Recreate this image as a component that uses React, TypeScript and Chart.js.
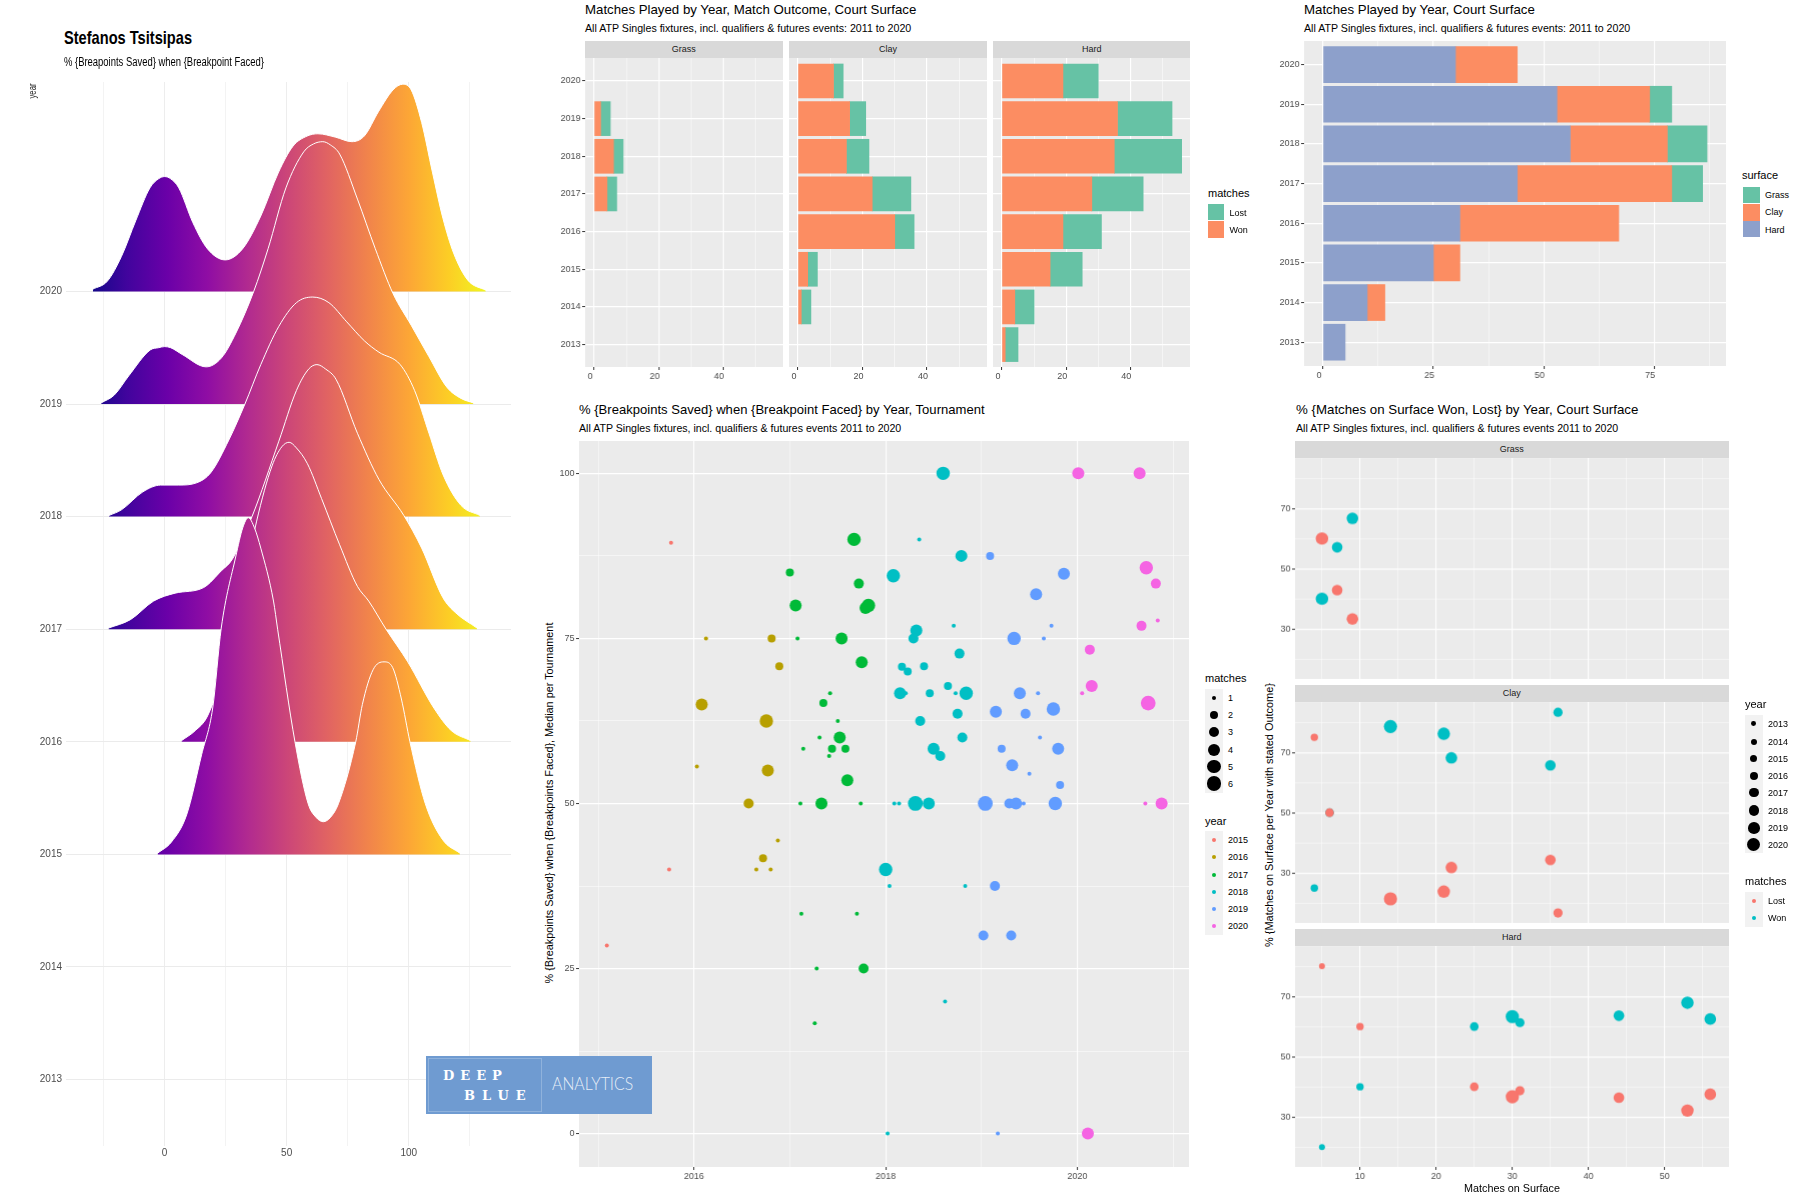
import React, { useEffect, useRef } from "react";
import { Chart, registerables } from "chart.js";

Chart.register(...registerables);

// ---------- data ----------
const barYears = [2020, 2019, 2018, 2017, 2016, 2015, 2014, 2013];
const grassWon = [0, 2, 6, 4, 0, 0, 0, 0];
const grassLost = [0, 3, 3, 3, 0, 0, 0, 0];
const clayWon = [11, 16, 15, 23, 30, 3, 1, 0];
const clayLost = [3, 5, 7, 12, 6, 3, 3, 0];
const hardWon = [19, 36, 35, 28, 19, 15, 4, 1];
const hardLost = [11, 17, 21, 16, 12, 10, 6, 4];
const totalHard = [30, 53, 56, 44, 31, 25, 10, 5];
const totalClay = [14, 21, 22, 35, 36, 6, 4, 0];
const totalGrass = [0, 5, 9, 7, 0, 0, 0, 0];

const ridgeYears = [2015, 2016, 2017, 2018, 2019, 2020];
const ridge2015X = [-2.9, 2.8, 9, 15.2, 19.7, 23.2, 29.2, 32, 34.3, 36.8, 39.4, 44.6, 46.3, 53.4, 58.8, 62, 65, 68, 71.2, 78.3, 81, 85.4, 89.9, 93.4, 97, 100.5, 106.8, 113.9, 121];
const ridge2015H = [0.01, 0.11, 0.35, 0.89, 1.3, 2.01, 2.65, 2.9, 2.99, 2.9, 2.72, 2.25, 2.0, 1.0, 0.45, 0.33, 0.29, 0.33, 0.45, 1.0, 1.33, 1.64, 1.71, 1.66, 1.38, 1.0, 0.45, 0.13, 0.01];
const ridge2016X = [6.9, 12.6, 17.6, 25, 31, 37.7, 44, 48, 51, 54, 58.5, 64.3, 71.7, 79, 83.6, 90.7, 99.6, 110.3, 117.4, 125.4];
const ridge2016H = [0.01, 0.1, 0.23, 0.7, 1.25, 1.96, 2.45, 2.62, 2.66, 2.61, 2.47, 2.16, 1.75, 1.38, 1.25, 1.0, 0.71, 0.3, 0.1, 0.01];
const ridge2017X = [-23, -14, -4.5, 4.3, 16, 23.3, 27.7, 35.8, 46.8, 54, 59, 62.4, 66, 70.2, 79, 87.8, 98, 105.3, 114, 119, 128];
const ridge2017H = [0.01, 0.085, 0.25, 0.32, 0.37, 0.52, 0.62, 1.0, 1.67, 2.12, 2.31, 2.35, 2.31, 2.22, 1.74, 1.33, 1.01, 0.72, 0.28, 0.15, 0.01];
const ridge2018X = [-22.8, -17.7, -8.9, -1.6, 5.8, 13.1, 18.9, 26.3, 32.9, 39.4, 46.8, 54, 60.7, 67.3, 74.6, 81.9, 87.8, 96.5, 102.4, 108.3, 114.1, 121.4, 129.2];
const ridge2018H = [0.01, 0.06, 0.22, 0.28, 0.28, 0.3, 0.39, 0.68, 1.0, 1.35, 1.69, 1.9, 1.95, 1.9, 1.73, 1.56, 1.46, 1.35, 1.12, 0.74, 0.37, 0.1, 0.01];
const ridge2019X = [-26, -20.6, -14.7, -5.9, -2.5, 0, 2.5, 7.2, 17, 23.3, 29.2, 36.5, 42.4, 49.7, 57, 61, 64.8, 68, 71.7, 79, 86.3, 93.6, 101, 108.3, 115.6, 121.4, 126.5];
const ridge2019H = [0.01, 0.08, 0.25, 0.48, 0.5, 0.51, 0.5, 0.44, 0.33, 0.41, 0.63, 1.0, 1.38, 1.92, 2.24, 2.31, 2.33, 2.3, 2.22, 1.82, 1.38, 0.98, 0.7, 0.42, 0.15, 0.05, 0.01];
const ridge2020X = [-29.4, -23.5, -17.7, -11.8, -6, -2.5, 0, 2.5, 5.8, 11.6, 17.5, 24.8, 32, 39.4, 46.7, 52.6, 58.4, 62.8, 70, 76.7, 81.8, 87.7, 93.6, 97.5, 101, 105.3, 109.7, 114, 118.4, 124.2, 131.6];
const ridge2020H = [0.02, 0.09, 0.31, 0.63, 0.92, 1.0, 1.02, 1.0, 0.92, 0.61, 0.38, 0.28, 0.38, 0.67, 1.06, 1.29, 1.38, 1.4, 1.37, 1.33, 1.38, 1.6, 1.79, 1.84, 1.79, 1.5, 1.06, 0.65, 0.34, 0.1, 0.01];

// [date in years, % saved, matches]
const bp2015 = [[2015.76, 89.5, 1], [2015.09, 28.5, 1], [2015.74, 40, 1]];
const bp2016 = [[2016.125, 75, 1], [2016.81, 75, 2], [2016.89, 70.8, 2], [2016.08, 65, 4], [2016.755, 62.5, 5], [2016.03, 55.6, 1], [2016.77, 55, 4], [2016.57, 50, 3], [2016.72, 41.7, 2], [2016.875, 44.4, 1], [2016.65, 40, 1], [2016.8, 40, 1]];
const bp2017 = [[2017.67, 90, 5], [2017.0, 85, 2], [2017.72, 83.3, 3], [2017.06, 80, 4], [2017.79, 79.6, 4], [2017.82, 80, 5], [2017.08, 75, 1], [2017.54, 75, 4], [2017.75, 71.4, 4], [2017.42, 66.7, 1], [2017.35, 65.2, 2], [2017.5, 62.5, 1], [2017.31, 60, 1], [2017.52, 60, 4], [2017.14, 58.3, 1], [2017.44, 58.3, 2], [2017.58, 58.3, 2], [2017.41, 57.2, 1], [2017.6, 53.5, 4], [2017.11, 50, 1], [2017.33, 50, 4], [2017.74, 50, 1], [2017.12, 33.3, 1], [2017.7, 33.3, 1], [2017.28, 25, 1], [2017.77, 25, 3], [2017.26, 16.7, 1]];
const bp2018 = [[2018.6, 100, 5], [2018.35, 90, 1], [2018.79, 87.5, 4], [2018.08, 84.5, 5], [2018.32, 76.2, 4], [2018.29, 75, 3], [2018.71, 76.9, 1], [2018.77, 72.7, 3], [2018.17, 70.7, 2], [2018.23, 70, 2], [2018.4, 70.8, 2], [2018.65, 67.8, 2], [2018.15, 66.7, 4], [2018.21, 66.7, 1], [2018.46, 66.7, 2], [2018.73, 66.7, 1], [2018.84, 66.7, 5], [2018.75, 63.6, 3], [2018.36, 62.5, 3], [2018.8, 60, 3], [2018.5, 58.3, 4], [2018.57, 57.2, 3], [2018.09, 50, 1], [2018.14, 50, 1], [2018.31, 50, 6], [2018.45, 50, 4], [2018.0, 40, 5], [2018.04, 37.5, 1], [2018.83, 37.5, 1], [2018.62, 20, 1], [2018.02, 0, 1]];
const bp2019 = [[2019.09, 87.5, 2], [2019.57, 81.7, 4], [2019.86, 84.8, 4], [2019.34, 75, 5], [2019.73, 76.9, 1], [2019.65, 75, 1], [2019.4, 66.7, 4], [2019.59, 66.7, 1], [2019.15, 63.9, 4], [2019.46, 63.6, 3], [2019.75, 64.3, 5], [2019.61, 60, 1], [2019.21, 58.3, 2], [2019.8, 58.3, 4], [2019.32, 55.8, 4], [2019.5, 54.5, 1], [2019.82, 52.8, 2], [2019.04, 50, 6], [2019.29, 50, 3], [2019.36, 50, 4], [2019.44, 50, 1], [2019.77, 50, 5], [2019.14, 37.5, 3], [2019.02, 30, 3], [2019.31, 30, 3], [2019.17, 0, 1]];
const bp2020 = [[2020.01, 100, 4], [2020.65, 100, 4], [2020.72, 85.7, 5], [2020.82, 83.3, 3], [2020.67, 76.9, 3], [2020.84, 77.7, 1], [2020.13, 73.3, 3], [2020.15, 67.8, 4], [2020.05, 66.7, 1], [2020.74, 65.2, 6], [2020.71, 50, 1], [2020.88, 50, 4], [2020.11, 0, 4]];

// [matches on surface, % of matches, year]
const grassWonPct = [[5, 40, 2019], [7, 57.1, 2017], [9, 66.7, 2018]];
const grassLostPct = [[5, 60, 2019], [7, 42.9, 2017], [9, 33.3, 2018]];
const clayWonPct = [[4, 25, 2014], [6, 50, 2015], [36, 83.3, 2016], [35, 65.7, 2017], [22, 68.2, 2018], [21, 76.2, 2019], [14, 78.6, 2020]];
const clayLostPct = [[4, 75, 2014], [6, 50, 2015], [36, 16.7, 2016], [35, 34.3, 2017], [22, 31.8, 2018], [21, 23.8, 2019], [14, 21.4, 2020]];
const hardWonPct = [[5, 20, 2013], [10, 40, 2014], [25, 60, 2015], [31, 61.3, 2016], [44, 63.6, 2017], [56, 62.5, 2018], [53, 67.9, 2019], [30, 63.3, 2020]];
const hardLostPct = [[5, 80, 2013], [10, 60, 2014], [25, 40, 2015], [31, 38.7, 2016], [44, 36.4, 2017], [56, 37.5, 2018], [53, 32.1, 2019], [30, 36.7, 2020]];

const legendMatches = [1, 2, 3, 4, 5, 6];
const legendYears = [2015, 2016, 2017, 2018, 2019, 2020];
const legendAllYears = [2013, 2014, 2015, 2016, 2017, 2018, 2019, 2020];

// ---------- styles ----------
const SANS = "'Liberation Sans', Arial, sans-serif";
const GREEN = "#66C2A5", ORANGE = "#FC8D62", BLUE = "#8DA0CB";
const RED_G = "#F8766D", CYAN_G = "#00BFC4";
const YEAR_COLORS: any = { 2015: "#F8766D", 2016: "#B79F00", 2017: "#00BA38", 2018: "#00BFC4", 2019: "#619CFF", 2020: "#F564E3" };
const MATCH_R = [0, 2, 4, 5, 6, 6.7, 7.4];
const YEAR_R: any = { 2013: 3, 2014: 3.7, 2015: 4.3, 2016: 4.6, 2017: 5.3, 2018: 5.8, 2019: 6.2, 2020: 6.6 };
const PLASMA = ["#0D0887", "#41049D", "#6A00A8", "#8F0DA4", "#B12A90", "#CC4678", "#E16462", "#F1844B", "#FCA636", "#FCCE25", "#F0F921"];

const M = { l: 40, r: 14, t: 16, b: 26 };
const bgPlugin = { id: "panelBg", beforeDraw(c: any) { const a = c.chartArea; c.ctx.save(); c.ctx.fillStyle = "#EBEBEB"; c.ctx.fillRect(a.left, a.top, a.width, a.height); c.ctx.restore(); } };

function ggScale(o: any) {
  const major = o.major, shown = o.labels !== false;
  return {
    type: "linear", min: o.min, max: o.max, stacked: o.stacked, offset: false,
    border: { display: false },
    afterFit: (s: any) => { if (o.axis === "x") s.height = M.b; else s.width = M.l; },
    grid: {
      offset: false,
      color: "#FFFFFF",
      lineWidth: (c: any) => (c.tick && major(c.tick.value) ? 1.15 : 0.5),
      tickColor: (c: any) => (shown && c.tick && major(c.tick.value) ? "#333333" : "rgba(0,0,0,0)"),
      tickLength: 3, tickWidth: 1,
    },
    ticks: {
      stepSize: o.step, includeBounds: false, autoSkip: false, maxRotation: 0, minRotation: 0,
      padding: 1.5, color: "#4D4D4D", font: { family: SANS, size: 9 }, labelOffset: o.labelOffset || 0,
      callback: (v: number) => (shown && major(v) ? String(v) : ""),
    },
  };
}

function baseOptions(scales: any, extra: any = {}) {
  return {
    responsive: false, animation: false, devicePixelRatio: 1, events: [],
    layout: { autoPadding: false, padding: { top: M.t, right: M.r, left: 0, bottom: 0 } },
    plugins: { legend: { display: false }, tooltip: { enabled: false } },
    scales, ...extra,
  };
}

function barConfig(series: any[], xr: any, yr: any, thick: number, yLabels: boolean, xOff: number) {
  return {
    type: "bar",
    data: { datasets: series.map((s) => ({
      label: s.label, backgroundColor: s.color, borderWidth: 0, barThickness: thick,
      data: barYears.map((y, i) => ({ x: s.values[i], y })).filter((p) => p.x > 0),
    })) },
    options: baseOptions({
      x: ggScale({ axis: "x", ...xr, stacked: true, labelOffset: xOff }),
      y: ggScale({ axis: "y", ...yr, step: 1, stacked: true, major: () => true, labels: yLabels }),
    }, { indexAxis: "y" }),
    plugins: [bgPlugin],
  };
}

function pctConfig(won: number[][], lost: number[][], showX: boolean) {
  const ds = (rows: number[][], color: string, label: string) => ({
    label, data: rows.map((r) => ({ x: r[0], y: r[1], year: r[2] })), showLine: false,
    pointBackgroundColor: color, pointBorderWidth: 0, pointRadius: (c: any) => YEAR_R[c.raw?.year] ?? 0,
  });
  return {
    type: "scatter",
    data: { datasets: [ds(lost, RED_G, "Lost"), ds(won, CYAN_G, "Won")] },
    options: baseOptions({
      x: ggScale({ axis: "x", min: 1.47, max: 58.46, step: 5, major: (v: number) => v % 10 === 0, labels: showX }),
      y: ggScale({ axis: "y", min: 13.4, max: 86.7, step: 10, major: (v: number) => v % 20 === 10 }),
    }),
    plugins: [bgPlugin],
  };
}

function scatterConfig() {
  const rows: any = { 2015: bp2015, 2016: bp2016, 2017: bp2017, 2018: bp2018, 2019: bp2019, 2020: bp2020 };
  return {
    type: "scatter",
    data: { datasets: [...legendYears].reverse().map((y) => ({
      label: String(y), data: rows[y].map((r: number[]) => ({ x: r[0], y: r[1], m: r[2] })), showLine: false,
      pointBackgroundColor: YEAR_COLORS[y], pointBorderWidth: 0, pointRadius: (c: any) => MATCH_R[c.raw?.m] ?? 0,
    })) },
    options: baseOptions({
      x: ggScale({ axis: "x", min: 2014.8, max: 2021.166, step: 1, major: (v: number) => v % 2 === 0 }),
      y: ggScale({ axis: "y", min: -5.06, max: 104.9, step: 12.5, major: (v: number) => v % 25 === 0 }),
    }),
    plugins: [bgPlugin],
  };
}

function ridgeConfig() {
  const rows: any = { 2015: [ridge2015X, ridge2015H], 2016: [ridge2016X, ridge2016H], 2017: [ridge2017X, ridge2017H], 2018: [ridge2018X, ridge2018H], 2019: [ridge2019X, ridge2019H], 2020: [ridge2020X, ridge2020H] };
  const gradient = (c: any) => {
    const ch = c.chart;
    if (!ch.chartArea) return "rgba(0,0,0,0)";
    const xs = ch.scales.x;
    const g = ch.ctx.createLinearGradient(xs.getPixelForValue(-32), 0, xs.getPixelForValue(133), 0);
    PLASMA.forEach((col, i) => g.addColorStop(i / (PLASMA.length - 1), col));
    return g;
  };
  const light = (c: any) => (c.tick && c.tick.value % 50 === 0 ? 0.9 : 0.6);
  return {
    type: "line",
    data: { datasets: ridgeYears.map((y) => ({
      label: String(y),
      data: rows[y][0].map((x: number, i: number) => ({ x, y: y + rows[y][1][i] })),
      borderColor: "#FFFFFF", borderWidth: 1, pointRadius: 0, cubicInterpolationMode: "monotone",
      fill: { value: y }, backgroundColor: gradient,
    })) },
    options: {
      responsive: false, animation: false, devicePixelRatio: 1, events: [],
      layout: { autoPadding: false, padding: { top: M.t, right: M.r, left: 0, bottom: 0 } },
      plugins: { legend: { display: false }, tooltip: { enabled: false } },
      scales: {
        x: {
          type: "linear", min: -40.4, max: 141.9, border: { display: false },
          afterFit: (s: any) => { s.height = M.b; },
          grid: { color: "#EBEBEB", lineWidth: light, drawTicks: false },
          ticks: { stepSize: 25, includeBounds: false, autoSkip: false, maxRotation: 0, padding: 1, color: "#4D4D4D", font: { family: SANS, size: 10 }, callback: (v: number) => (v % 50 === 0 ? String(v) : "") },
        },
        y: {
          type: "linear", min: 2012.41, max: 2021.86, border: { display: false },
          afterFit: (s: any) => { s.width = 66; },
          grid: { color: "#EBEBEB", lineWidth: 1, drawTicks: false },
          ticks: { stepSize: 1, includeBounds: false, autoSkip: false, padding: 4, color: "#4D4D4D", font: { family: SANS, size: 10 }, callback: (v: number) => (v <= 2020 ? String(v) : null) },
        },
      },
    },
  };
}

// ---------- components ----------
function Panel({ x, y, w, h, left = M.l, make }: any) {
  const ref = useRef<HTMLCanvasElement>(null);
  useEffect(() => {
    const chart = new Chart(ref.current as any, make());
    return () => chart.destroy();
  }, []);
  const cw = w + left + M.r, ch = h + M.t + M.b;
  return <canvas ref={ref} width={cw} height={ch} style={{ position: "absolute", left: x - left, top: y - M.t, width: cw, height: ch }} />;
}

const measureCtx = typeof document !== "undefined" ? document.createElement("canvas").getContext("2d") : null;

function T({ x, y, text, size = 10, bold = false, color = "#000", anchor = "start", rot = 0, w, family = SANS, spacing = 0, weight }: any) {
  let sx = 1;
  if (w && measureCtx) {
    measureCtx.font = `${bold ? "bold " : ""}${size}px ${family}`;
    sx = w / measureCtx.measureText(text).width;
  }
  const tx = anchor === "middle" ? "-50%" : anchor === "end" ? "-100%" : "0";
  return (
    <div style={{
      position: "absolute", left: x, top: y, whiteSpace: "pre", lineHeight: 1, fontFamily: family, fontSize: size,
      fontWeight: weight ?? (bold ? "bold" : "normal"), color, transformOrigin: "0 0", letterSpacing: spacing,
      transform: rot ? `rotate(${rot}deg) scaleX(${sx}) translate(-50%,-50%)` : `scaleX(${sx}) translate(${tx},-50%)`,
    }}>{text}</div>
  );
}

function Box({ x, y, w, h, color, extra }: any) {
  return <div style={{ position: "absolute", left: x, top: y, width: w, height: h, background: color, ...extra }} />;
}
function Dot({ x, y, r, color }: any) {
  return <div style={{ position: "absolute", left: x - r, top: y - r, width: 2 * r, height: 2 * r, borderRadius: "50%", background: color }} />;
}
function Strip({ x, y, w, h, text }: any) {
  return <>
    <Box x={x} y={y} w={w} h={h} color="#D9D9D9" />
    <T x={x + w / 2} y={y + h / 2} text={text} size={9} color="#1A1A1A" anchor="middle" />
  </>;
}

export default function App() {
  const midRowY = { min: 2012.405, max: 2020.61 };
  const mid = { min: -2.8, max: 58.6, step: 10, major: (v: number) => v % 20 === 0 };
  const midBars = (won: number[], lost: number[], labels: boolean) => () =>
    barConfig([{ label: "Won", color: ORANGE, values: won }, { label: "Lost", color: GREEN, values: lost }], mid, midRowY, 34, labels, -4);

  const matchRows = [697.7, 714.7, 732.3, 749.7, 766.7, 783.7];
  const yearRows = [839.7, 857.3, 874.7, 891.7, 908.7, 926];
  const allYearRows = [723.7, 741.7, 758.7, 775.7, 792.7, 810.7, 827.7, 844.7];

  return (
    <div style={{ position: "absolute", left: 0, top: 0, width: 1800, height: 1200, background: "#fff", overflow: "hidden" }}>
      {/* ridgeline panel */}
      <Panel x={66} y={82} w={445} h={1064} left={66} make={ridgeConfig} />
      <T x={64} y={37} text="Stefanos Tsitsipas" size={19} bold w={128} />
      <T x={64} y={61.6} text="% {Breapoints Saved} when {Breakpoint Faced}" size={12.5} w={200} />
      <T x={33} y={91} text="year" size={10} rot={-90} w={15} color="#222" />

      {/* top middle */}
      <T x={585} y={10.3} text="Matches Played by Year, Match Outcome, Court Surface" size={13.5} w={331.5} />
      <T x={585} y={28} text="All ATP Singles fixtures, incl. qualifiers & futures events: 2011 to 2020" size={11} w={327} />
      <Strip x={585} y={40.7} w={197.7} h={17} text="Grass" />
      <Strip x={789} y={40.7} w={198} h={17} text="Clay" />
      <Strip x={993} y={40.7} w={197.4} h={17} text="Hard" />
      <Panel x={585} y={57.7} w={197.7} h={309} make={midBars(grassWon, grassLost, true)} />
      <Panel x={789} y={57.7} w={198} h={309} make={midBars(clayWon, clayLost, false)} />
      <Panel x={993} y={57.7} w={197.4} h={309} make={midBars(hardWon, hardLost, false)} />
      <T x={1208} y={193} text="matches" size={11} />
      <Box x={1208} y={203.7} w={16} h={16.5} color={GREEN} />
      <Box x={1208} y={221} w={16} h={16.5} color={ORANGE} />
      <T x={1229.5} y={213} text="Lost" size={9} />
      <T x={1229.5} y={230} text="Won" size={9} />

      {/* top right */}
      <T x={1304} y={10.3} text="Matches Played by Year, Court Surface" size={13.5} w={231} />
      <T x={1304} y={28} text="All ATP Singles fixtures, incl. qualifiers & futures events: 2011 to 2020" size={11} w={327} />
      <Panel x={1304} y={40.7} w={421.7} h={325.3} make={() => barConfig(
        [{ label: "Hard", color: BLUE, values: totalHard }, { label: "Clay", color: ORANGE, values: totalClay }, { label: "Grass", color: GREEN, values: totalGrass }],
        { min: -4.3, max: 91.3, step: 12.5, major: (v: number) => v % 25 === 0 },
        { min: 2012.4, max: 2020.595 }, 36, true, -4)} />
      <T x={1742} y={175} text="surface" size={11} />
      <Box x={1743} y={186.7} w={16.5} h={16.5} color={GREEN} />
      <Box x={1743} y={204} w={16.5} h={16.5} color={ORANGE} />
      <Box x={1743} y={220.7} w={16.5} h={16.5} color={BLUE} />
      <T x={1765} y={195} text="Grass" size={9} />
      <T x={1765} y={212} text="Clay" size={9} />
      <T x={1765} y={230} text="Hard" size={9} />

      {/* main scatter */}
      <T x={579} y={410.3} text="% {Breakpoints Saved} when {Breakpoint Faced} by Year, Tournament" size={13.5} w={406} />
      <T x={579} y={428} text="All ATP Singles fixtures, incl. qualifiers & futures events 2011 to 2020" size={11} w={323} />
      <T x={549} y={803} text="% {Breakpoints Saved} when {Breakpoints Faced}, Median per Tournament" size={11} rot={-90} w={361} />
      <Panel x={579} y={440.7} w={609.7} h={726} make={scatterConfig} />
      <T x={1205} y={678} text="matches" size={11} />
      <Box x={1204.7} y={689} w={18} h={103.7} color="#F2F2F2" />
      {legendMatches.map((m, i) => <React.Fragment key={m}>
        <Dot x={1214} y={matchRows[i]} r={MATCH_R[m]} color="#000" />
        <T x={1228} y={matchRows[i]} text={String(m)} size={9} />
      </React.Fragment>)}
      <T x={1205} y={820.7} text="year" size={11} />
      <Box x={1205} y={831} w={18} h={104} color="#F2F2F2" />
      {legendYears.map((y, i) => <React.Fragment key={y}>
        <Dot x={1214} y={yearRows[i]} r={2.2} color={YEAR_COLORS[y]} />
        <T x={1228} y={yearRows[i]} text={String(y)} size={9} />
      </React.Fragment>)}

      {/* bottom right */}
      <T x={1295.5} y={410.3} text="% {Matches on Surface Won, Lost} by Year, Court Surface" size={13.5} w={342.6} />
      <T x={1295.5} y={428} text="All ATP Singles fixtures, incl. qualifiers & futures events 2011 to 2020" size={11} w={323} />
      <T x={1269} y={815} text="% {Matches on Surface per Year with stated Outcome}" size={11} rot={-90} w={264} />
      <Strip x={1295} y={440.7} w={433.7} h={17.3} text="Grass" />
      <Strip x={1295} y={684.7} w={433.7} h={17.3} text="Clay" />
      <Strip x={1295} y={928.7} w={433.7} h={17.3} text="Hard" />
      <Panel x={1295} y={458} w={433.7} h={220.7} make={() => pctConfig(grassWonPct, grassLostPct, false)} />
      <Panel x={1295} y={702} w={433.7} h={220.7} make={() => pctConfig(clayWonPct, clayLostPct, false)} />
      <Panel x={1295} y={946} w={433.7} h={220.7} make={() => pctConfig(hardWonPct, hardLostPct, true)} />
      <T x={1511.7} y={1188} text="Matches on Surface" size={11} anchor="middle" w={96} />
      <T x={1745} y={704} text="year" size={11} />
      <Box x={1745} y={715} w={18} h={138} color="#F2F2F2" />
      {legendAllYears.map((y, i) => <React.Fragment key={y}>
        <Dot x={1753.8} y={allYearRows[i]} r={2.4 + i * 0.58} color="#000" />
        <T x={1768} y={allYearRows[i]} text={String(y)} size={9} />
      </React.Fragment>)}
      <T x={1745} y={881.3} text="matches" size={11} />
      <Box x={1745} y={892} w={18} h={35} color="#F2F2F2" />
      <Dot x={1753.8} y={900.7} r={2.2} color={RED_G} />
      <Dot x={1753.8} y={917.7} r={2.2} color={CYAN_G} />
      <T x={1768} y={900.7} text="Lost" size={9} />
      <T x={1768} y={917.7} text="Won" size={9} />

      {/* logo */}
      <Box x={426} y={1056} w={226} h={58} color="#6F9BD1" />
      <Box x={427.5} y={1058} w={114} h={54} color="transparent" extra={{ border: "1px solid #8FB2DC", boxSizing: "border-box" }} />
      <T x={443} y={1075} text="DEEP" size={13} bold color="#fff" family="'DejaVu Serif', serif" spacing={6} />
      <T x={464} y={1095} text="BLUE" size={13} bold color="#fff" family="'DejaVu Serif', serif" spacing={7} />
      <T x={552} y={1083} text="ANALYTICS" size={18} color="rgba(255,255,255,0.85)" family="Lato, sans-serif" weight={300} w={83} />
    </div>
  );
}
